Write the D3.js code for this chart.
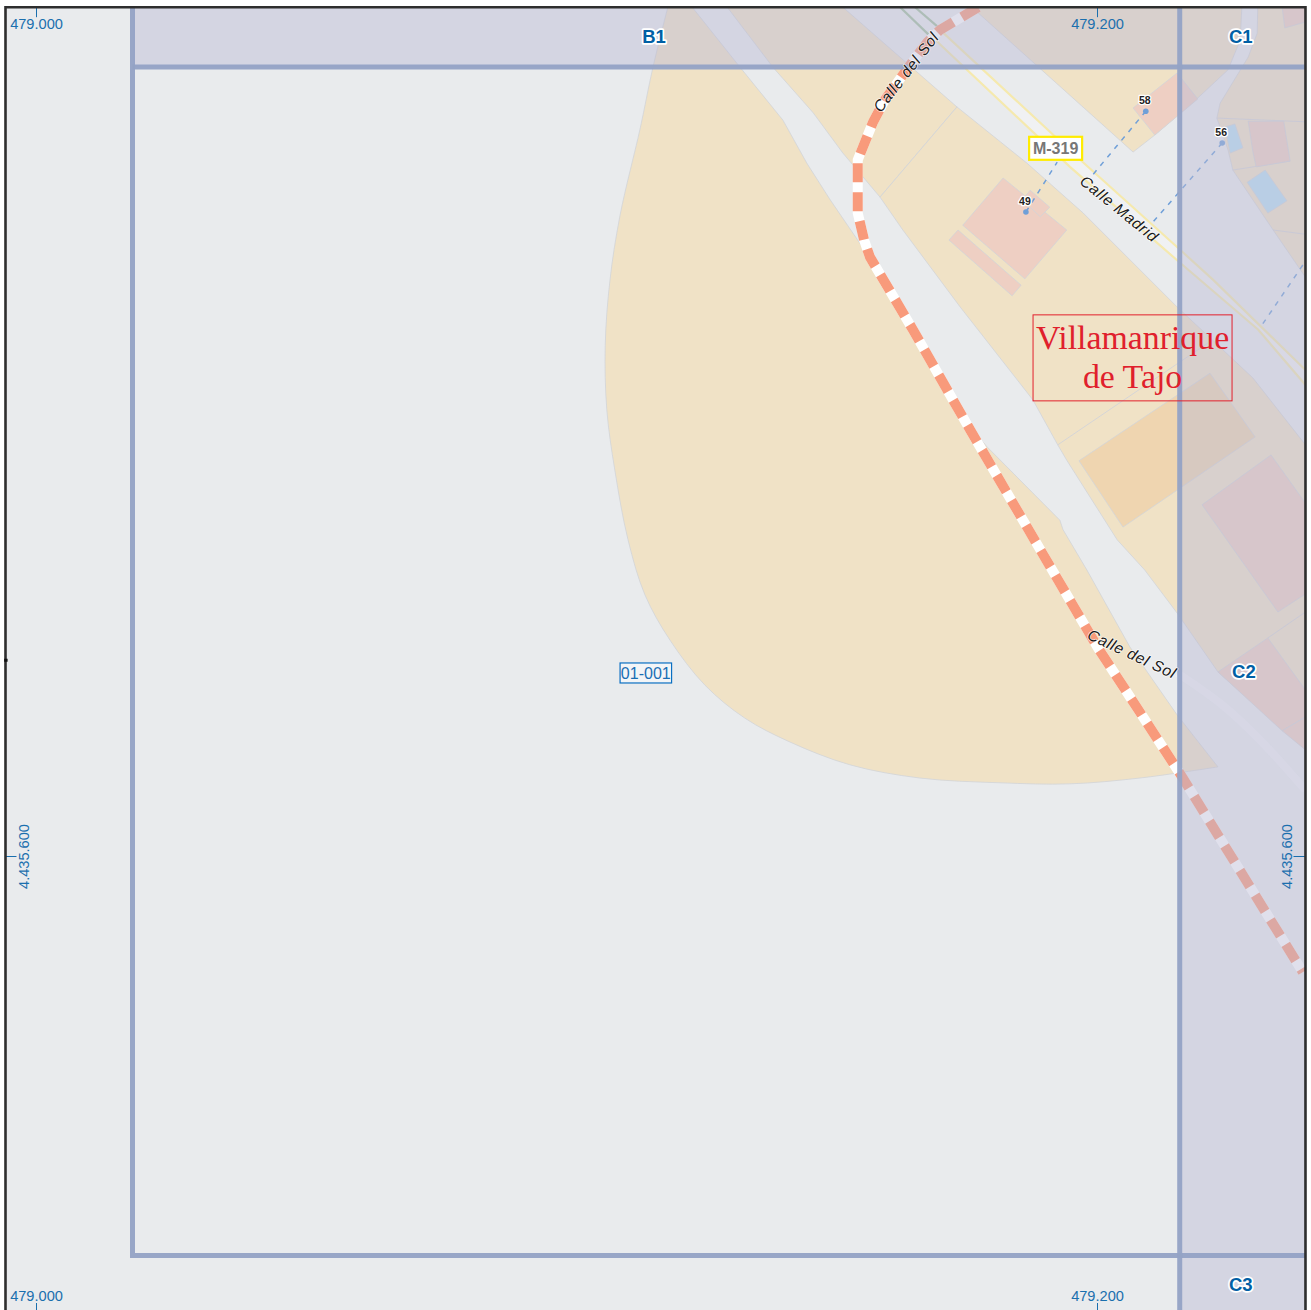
<!DOCTYPE html>
<html><head><meta charset="utf-8">
<script src="https://cdnjs.cloudflare.com/ajax/libs/d3/7.8.5/d3.min.js"></script>
<style>html,body{margin:0;padding:0;background:#fff}svg{display:block}</style></head>
<body><div id="chart"></div>
<script>
// All geometry in metres east of 479.000 and north of 4.435.600
const frameE = [-5.75, 239.3];
const frameN = [-85.6, 160.0];
const sheetE = [18.19, 215.59];
const sheetN = [-75.31, 148.73];
const xTicks = [0, 200];
const yTicks = [0];
const xTickLabels = ["479.000", "479.200"];
const yTickLabels = ["4.435.600"];
const frameNotch = [36.9];

const parcelWestArc = [[119.1,160],[116.3,148.7],[113.9,137.2],[110.1,120.8],[108.2,108.6],[107.3,96.3],[107.6,84.1],[109.1,72.8],[111.6,59.6],[114.8,49.2],[119.5,40.7],[126.1,32.2],[133.6,26],[142.1,21.5],[153.4,17.2],[166.6,14.7],[181.7,13.8],[194.9,13.6],[208.1,14.7],[222.8,16.8]];
const parcelWestEdge = [[215.1,26.6],[206.2,39.4],[198.1,53.9],[193.6,61.5],[193,63.3],[179.3,77.1],[176.1,80.9],[171,90.3],[156.8,113.3],[149.7,123.7],[145.3,130.6],[140.8,138.7],[132.7,148.7],[123.7,160]];
const parcelMiddle = [[130.3,160],[138.9,148.7],[146.5,140.1],[152.1,132.5],[159.1,124.2],[173.6,141.2],[152.1,160]];
const parcelSouth = [[159.1,124.2],[173.6,141.2],[186.8,130.6],[197.4,121.2],[215.1,103.5],[229.4,90.1],[239.3,77.5],[239.3,20],[222.8,34.7],[215.1,45.8],[209,53.9],[203.8,59.6],[194.3,74.6],[192.6,77.5],[187.9,86],[174.2,103.5],[163.4,118]];
const parcelNorth = [[176.4,160],[206.8,132.7],[210.9,135.9],[218.8,142.7],[224.7,148.2],[227,153.8],[227.3,160]];
const parcelEast = [[230.3,160],[230.2,155.1],[228.5,150.6],[223.2,141.9],[222.6,139.1],[224.7,133.1],[225.6,129.3],[233.2,118],[239.3,109.1],[239.3,160]];
const parcelDividers = [
  [[192.6,77.5],[220.9,96.7]],
  [[222.6,139.1],[239.3,138.4]],
  [[225.6,129.3],[236.4,131]],
  [[233.2,118],[239.3,117.2]],
  [[232.2,41.1],[239.3,46]]
];
const pinkBuildings = [
  [[206.8,141],[215.1,147.6],[219,142.7],[210.9,135.9]],
  [[182.3,127.8],[194.3,118],[186.4,108.8],[174.7,118.9]],
  [[187.4,125.5],[191.1,122.3],[189.3,120.5],[185.9,123.7]],
  [[173.8,118],[185.7,107.6],[184,105.6],[172.1,116.1]],
  [[234.9,160],[235.4,156.1],[239.3,157.2],[239.3,160]],
  [[228.5,138.5],[235.2,138.5],[236.4,131],[230,129.9],[229.4,132.7]],
  [[232.8,75.6],[239.3,66.5],[239.3,49.4],[234.1,46],[219.8,66.2]],
  [[232.2,41.1],[239.3,31.3],[239.3,26.2],[234.9,23.6],[222.8,34.7]],
  [[234.9,23.6],[239.3,26.2],[239.3,20]]
];
const blueBuildings = [
  [[226,138],[227.5,133.5],[225.1,132.5],[224.1,137.4]],
  [[231.7,129.3],[235.8,123.5],[232.2,121.2],[228.3,127]]
];
const orangeBuildings = [[[221.3,91],[229.8,79],[204.9,62],[196.6,74.5]]];

const yellowUpper = [[169.8,156.3],[196.2,131.8],[215.3,114.6],[221.9,108.6],[239.3,91.6]];
const yellowLower = [[168.5,154.8],[194.9,129.9],[215.1,112.3],[230.4,99.2],[239.3,88.8]];
const greenLines = [[[162.9,160],[168.5,154.6]],[[165.7,160],[170,156.3]]];
const lightRoad = [[215.1,34.5],[223.2,28.8],[230.7,21.9],[239.3,12.4]];
const boundaryRoad = [[177.6,160],[170.4,155.7],[168,153.4],[163.8,147.8],[160,142.5],[157.8,138.4],[154.9,131.2],[154.9,121.2],[156.1,116.1],[157.2,112.9],[165.3,99.2],[171,89.2],[176.1,80.3],[186.8,62],[200.2,39.2],[215.6,15.6],[238.8,-21.9]];

const houseNumbers = ["58","56","49"];
const housePoints = [[209.2,140.4],[223.6,134.4],[186.6,121.4]];
const houseLeaderEnds = [[199.2,128.4],[210,118.9],[192.5,130.8]];
const extraLeader = [[238.8,111.4],[231.1,100.1]];

const sheetNames = ["B1","C1","C2","C3"];
const sheetAnchors = [[116.5,154.4],[227.1,154.4],[227.7,34.7],[227.1,-80.7]];
const streetNames = ["Calle del Sol","Calle Madrid","Calle del Sol"];
const streetAnchors = [[164,147.8],[204.2,122],[206.6,38.1]];
const streetAngles = [-52,39,25];
const roadName = "M-319";
const roadAnchor = [192.2,133.4];
const townLines = ["Villamanrique","de Tajo"];
const townAnchor = [206.7,93.9];
const cellName = "01-001";
const cellAnchor = [115,34.5];

const W = 1311, H = 1310;
const x = d3.scaleLinear().domain([0,200]).range([36,1097]);
const y = d3.scaleLinear().domain([0,160]).range([856,7.2]);
const svg = d3.select("#chart").append("svg").attr("width",W).attr("height",H);
const pt = d => [x(d[0]),y(d[1])];
const line = d3.line().x(d=>x(d[0])).y(d=>y(d[1]));
const smooth = d3.line().x(d=>x(d[0])).y(d=>y(d[1])).curve(d3.curveCatmullRom.alpha(0.5));
const poly = d => line(d)+"Z";
const SANS = "'Liberation Sans',Arial,sans-serif";

svg.append("defs").append("clipPath").attr("id","fr").append("rect")
  .attr("x",x(frameE[0])).attr("y",y(frameN[1]))
  .attr("width",x(frameE[1])-x(frameE[0])).attr("height",y(frameN[0])-y(frameN[1]));

const map = svg.append("g").attr("clip-path","url(#fr)");
map.append("rect").attr("x",x(frameE[0])).attr("y",y(frameN[1]))
  .attr("width",x(frameE[1])-x(frameE[0])).attr("height",y(frameN[0])-y(frameN[1])).attr("fill","#e9ebed");

const edge = "#d2d4d8";
function polys(data,fill,sw){
  map.append("g").selectAll("path").data(data).join("path").attr("d",poly)
    .attr("fill",fill).attr("stroke",edge).attr("stroke-width",sw||0.8);
}
map.append("path").attr("d",smooth(parcelWestArc)+parcelWestEdge.map(p=>"L"+pt(p)).join("")+"Z")
  .attr("fill","#f0e2c6").attr("stroke",edge).attr("stroke-width",0.8);
polys([parcelMiddle,parcelSouth,parcelNorth,parcelEast],"#f0e2c6");
map.append("g").selectAll("path").data(parcelDividers).join("path").attr("d",line)
  .attr("fill","none").attr("stroke",edge).attr("stroke-width",0.9);
polys(orangeBuildings,"#efd5b0");
polys(pinkBuildings,"#eecfc3");
polys(blueBuildings,"#b9dff3");

// Carriageway
map.append("path").attr("d",poly(yellowUpper.concat(yellowLower.slice().reverse()))).attr("fill","#f0f1f3");
map.selectAll(".yl").data([yellowUpper,yellowLower]).join("path").attr("class","yl").attr("d",line)
  .attr("fill","none").attr("stroke","#f5e9ae").attr("stroke-width",2.2);
map.selectAll(".gl").data(greenLines).join("path").attr("class","gl").attr("d",line)
  .attr("fill","none").attr("stroke","#a3c09e").attr("stroke-width",2.2);
map.append("path").attr("d",smooth(lightRoad)).attr("fill","none").attr("stroke","#f1f2f7").attr("stroke-width",8).attr("stroke-opacity",.6);

// Leaders
const leaders = housePoints.map((p,i)=>[p,houseLeaderEnds[i]]).concat([extraLeader]);
map.selectAll(".ld").data(leaders).join("path").attr("class","ld").attr("d",line)
  .attr("fill","none").attr("stroke","#6f9fd8").attr("stroke-width",1.5).attr("stroke-dasharray","5 6");
map.selectAll(".hp").data(housePoints).join("circle").attr("class","hp")
  .attr("cx",d=>x(d[0])).attr("cy",d=>y(d[1])).attr("r",2.8).attr("fill","#6f9fd8");

// Municipal boundary
map.append("path").attr("d",line(boundaryRoad)).attr("fill","none").attr("stroke","#fff").attr("stroke-width",10);
map.append("path").attr("d",line(boundaryRoad)).attr("fill","none").attr("stroke","#f89a7b").attr("stroke-width",10).attr("stroke-dasharray","19 10");

// Out-of-sheet shade
map.append("path").attr("fill","rgb(186,186,213)").attr("fill-opacity",.45)
  .attr("d",poly([[sheetE[0],frameN[1]],[frameE[1],frameN[1]],[frameE[1],frameN[0]],[sheetE[1],frameN[0]],[sheetE[1],sheetN[1]],[sheetE[0],sheetN[1]]]));

// Sheet grid
const gridCol = "#94a2c5";
[[[sheetE[0],frameN[1]],[sheetE[0],sheetN[0]],[frameE[1],sheetN[0]]],
 [[sheetE[0],sheetN[1]],[frameE[1],sheetN[1]]],
 [[sheetE[1],frameN[1]],[sheetE[1],frameN[0]]]].forEach(g=>{
  map.append("path").attr("fill","none").attr("stroke",gridCol).attr("stroke-width",5).attr("stroke-opacity",.95).attr("d",line(g));
});

// Axes
const tickCol = "#1a6fae";
function styleAxis(g){
  g.select(".domain").remove();
  g.selectAll("line").attr("stroke",tickCol).attr("stroke-width",1);
  g.selectAll("text").attr("fill",tickCol).attr("font-family",SANS).attr("font-size",14.6);
}
const fx = (d,i)=>xTickLabels[i], fy=(d,i)=>yTickLabels[i];
const ta = svg.append("g").attr("transform",`translate(0,${y(frameN[1])})`)
  .call(d3.axisBottom(x).tickValues(xTicks).tickFormat(fx).tickSize(10).tickPadding(1.5)).call(styleAxis);
svg.append("g").attr("transform",`translate(0,${H})`)
  .call(d3.axisTop(x).tickValues(xTicks).tickFormat(fx).tickSize(7).tickPadding(2)).call(styleAxis);
const la = svg.append("g").attr("transform",`translate(${x(frameE[0])},0)`)
  .call(d3.axisRight(y).tickValues(yTicks).tickFormat(fy).tickSize(11)).call(styleAxis);
la.selectAll("text").attr("x",null).attr("dy",null).attr("text-anchor","middle")
  .attr("transform","translate(23.5,0) rotate(-90)");
const ra = svg.append("g").attr("transform",`translate(${x(frameE[1])},0)`)
  .call(d3.axisLeft(y).tickValues(yTicks).tickFormat(fy).tickSize(12)).call(styleAxis);
ra.selectAll("text").attr("x",null).attr("dy",null).attr("text-anchor","middle")
  .attr("transform","translate(-13,0) rotate(-90)");

// Frame
const fL=x(frameE[0]),fR=x(frameE[1]),fT=y(frameN[1]);
svg.append("path").attr("d",`M${fL},${H}V${fT}H${fR}V${H}`).attr("fill","none").attr("stroke","#2e2e2e").attr("stroke-width",2.6);
svg.append("g").selectAll("rect").data(frameNotch).join("rect")
  .attr("x",fL-1.3).attr("y",d=>y(d)-1.5).attr("width",3.4).attr("height",3).attr("fill","#111");

// Labels
const halo = s => s.attr("paint-order","stroke").attr("stroke-linejoin","round");
svg.append("g").selectAll("text").data(sheetNames).join("text").text(d=>d)
  .attr("x",(d,i)=>x(sheetAnchors[i][0])).attr("y",(d,i)=>y(sheetAnchors[i][1])).attr("dy","0.35em")
  .attr("text-anchor","middle").attr("font-family",SANS).attr("font-weight","bold").attr("font-size",18.5)
  .attr("fill","#0060a5").attr("stroke","#fff").attr("stroke-width",3.5).call(halo);

svg.append("g").selectAll("text").data(streetNames).join("text").text(d=>d)
  .attr("transform",(d,i)=>`translate(${pt(streetAnchors[i])}) rotate(${streetAngles[i]})`).attr("dy","0.35em")
  .attr("text-anchor","middle").attr("font-family",SANS).attr("font-style","italic").attr("font-size",15.5)
  .attr("letter-spacing",0.7).attr("fill","#1a1a1a").attr("stroke","#fff").attr("stroke-width",1.6).attr("stroke-opacity",.7).call(halo);

svg.append("g").selectAll("text").data(houseNumbers).join("text").text(d=>d)
  .attr("x",(d,i)=>x(housePoints[i][0])-1).attr("y",(d,i)=>y(housePoints[i][1])-7)
  .attr("text-anchor","middle").attr("font-family",SANS).attr("font-weight","bold").attr("font-size",10.5)
  .attr("fill","#222").attr("stroke","#fff").attr("stroke-width",2.5).call(halo);

const rb = svg.append("g").attr("transform",`translate(${pt(roadAnchor)})`);
rb.append("rect").attr("x",-26.5).attr("y",-11.5).attr("width",53).attr("height",23).attr("fill","#fff").attr("stroke","#ffec00").attr("stroke-width",2.2);
rb.append("text").text(roadName).attr("dy","0.36em").attr("text-anchor","middle").attr("font-family",SANS).attr("font-weight","bold").attr("font-size",16).attr("fill","#777");

const tn = svg.append("g").attr("transform",`translate(${pt(townAnchor)})`);
tn.append("rect").attr("x",-99.5).attr("y",-43).attr("width",199).attr("height",86).attr("fill","none").attr("stroke","#e2202c").attr("stroke-width",1);
tn.selectAll("text").data(townLines).join("text").text(d=>d)
  .attr("y",(d,i)=>-9+i*39).attr("text-anchor","middle").attr("font-family","'Liberation Serif',serif").attr("font-size",33.8).attr("fill","#e0202c");

const cb = svg.append("g").attr("transform",`translate(${pt(cellAnchor)})`);
cb.append("rect").attr("x",-26).attr("y",-10).attr("width",51.5).attr("height",20).attr("fill","#f3f5f7").attr("stroke","#0a6fc2").attr("stroke-width",1.2);
cb.append("text").text(cellName).attr("x",-0.3).attr("dy","0.36em").attr("text-anchor","middle").attr("font-family",SANS).attr("font-size",16).attr("fill","#1a6fb5");
</script></body></html>
